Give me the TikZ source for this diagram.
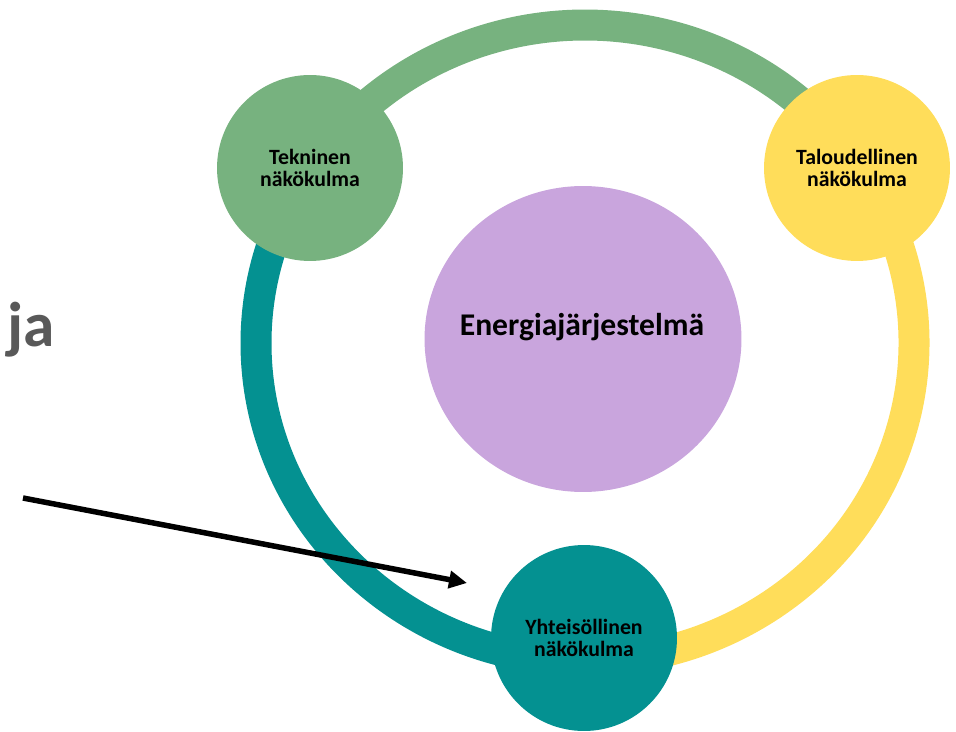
\documentclass[tikz,border=0pt]{standalone}
\usepackage{fontspec}
\setmainfont{Carlito}
\usetikzlibrary{arrows.meta, shapes.geometric}
\definecolor{techGreen}{HTML}{77B27F}
\definecolor{econYellow}{HTML}{FFDD5A}
\definecolor{socialTeal}{HTML}{049191}
\definecolor{energyPurple}{HTML}{C9A5DD}
\definecolor{textGray}{HTML}{595959}

\begin{document}
\begin{tikzpicture}[x=0.02cm, y=0.02cm,
    ringArc/.style={line width=6.2mm},
    viewNode/.style={circle, minimum size=3.72cm, inner sep=0pt, align=center,
      font=\bfseries\fontsize{12.4}{13}\selectfont}]
  \useasboundingbox (0,0) rectangle (956,731);
  \coordinate (ringC) at (585,388);
  % the ring, one arc per view
  \draw[ringArc, techGreen] (ringC) ++(146.7:329 and 318) arc[start angle=146.7, end angle=33.5, x radius=329, y radius=318];
  \draw[ringArc, econYellow] (ringC) ++(33.5:329 and 318) arc[start angle=33.5, end angle=-90, x radius=329, y radius=318];
  \draw[ringArc, socialTeal] (ringC) ++(270:329 and 318) arc[start angle=270, end angle=146.7, x radius=329, y radius=318];
  % arrow from the left
  \coordinate (arrowStart) at (23,233);
  \coordinate (arrowEnd) at (467,148);
  \draw[line width=1.1mm, -{Triangle[length=3.6mm, width=3.4mm]}] (arrowStart) -- (arrowEnd);
  % views
  \node[viewNode, fill=techGreen] (tech) at (310,563) {Tekninen\\näkökulma};
  \node[viewNode, fill=econYellow] (econ) at (857,563) {Taloudellinen\\näkökulma};
  \node[viewNode, fill=socialTeal] (social) at (584,93) {Yhteisöllinen\\näkökulma};
  % centre
  \node[ellipse, fill=energyPurple, minimum width=6.34cm, minimum height=6.12cm, inner sep=0pt] (energy) at (583,392) {};
  \node[font=\bfseries\fontsize{18}{20}\selectfont] (energyText) at (582,404) {Energiajärjestelmä};
  \node[text=textGray, font=\bfseries\fontsize{36}{40}\selectfont] (ja) at (31,401) {ja};
\end{tikzpicture}
\end{document}
